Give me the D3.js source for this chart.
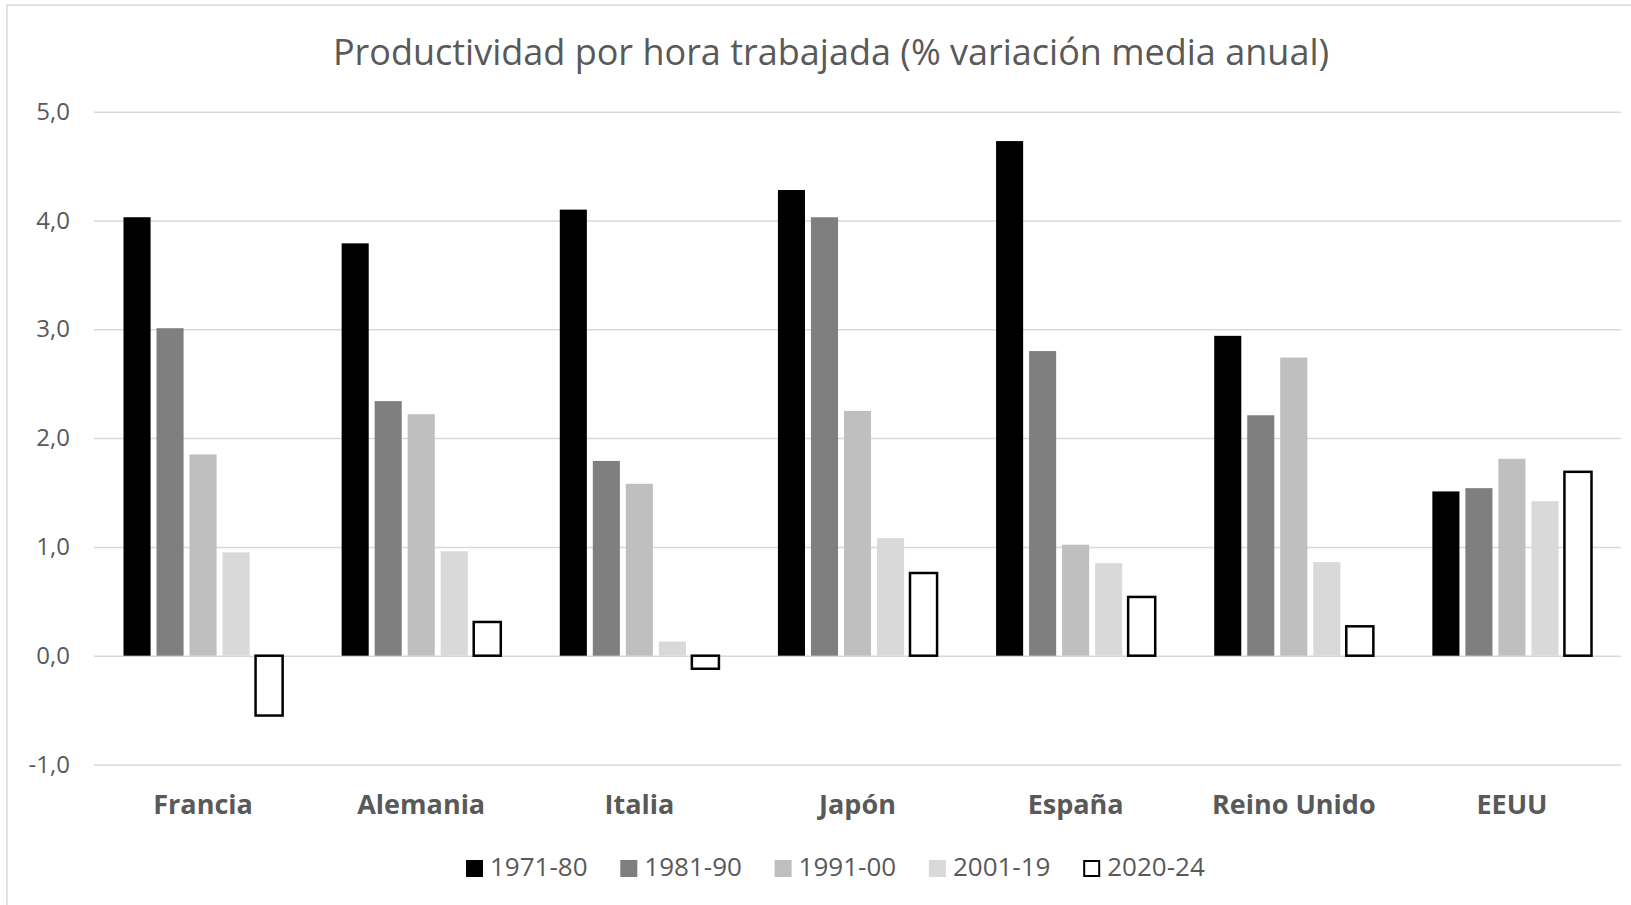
<!DOCTYPE html>
<html>
<head>
<meta charset="utf-8">
<script src="https://cdn.jsdelivr.net/npm/d3@7"></script>
<style>
  body { margin: 0; background: #fff; }
  text { font-family: "Open Sans", sans-serif; fill: #595959; }
</style>
</head>
<body>
<div id="container"></div>
<script>
/* CONSTANTS AND GLOBALS */
const width = 1631,
  height = 905,
  margin = { top: 111.7, bottom: 140.5, left: 94, right: 10 };

/* DATA */
const countries = ["Francia", "Alemania", "Italia", "Japón", "España", "Reino Unido", "EEUU"];
const periods = ["1971-80", "1981-90", "1991-00", "2001-19", "2020-24"];
const v1971_80 = [4.03, 3.79, 4.10, 4.28, 4.73, 2.94, 1.51];
const v1981_90 = [3.01, 2.34, 1.79, 4.03, 2.80, 2.21, 1.54];
const v1991_00 = [1.85, 2.22, 1.58, 2.25, 1.02, 2.74, 1.81];
const v2001_19 = [0.95, 0.96, 0.13, 1.08, 0.85, 0.86, 1.42];
const v2020_24 = [-0.55, 0.31, -0.12, 0.76, 0.54, 0.27, 1.69];
const yTicks = [-1, 0, 1, 2, 3, 4, 5];
const title = "Productividad por hora trabajada (% variación media anual)";

const seriesValues = [v1971_80, v1981_90, v1991_00, v2001_19, v2020_24];
const data = countries.map((c, i) => ({
  country: c,
  values: periods.map((p, j) => ({ period: p, value: seriesValues[j][i] }))
}));

const fills = ["#000000", "#7f7f7f", "#bfbfbf", "#d9d9d9", "#ffffff"];
const strokes = ["none", "none", "none", "none", "#000000"];

/* SCALES */
const x0 = d3.scaleBand()
  .domain(countries)
  .range([margin.left, 1621]);

const x1 = d3.scaleBand()
  .domain(periods)
  .range([29.5, x0.bandwidth() - 29.5])
  .paddingInner(0.18);

const yScale = d3.scaleLinear()
  .domain([-1, 5])
  .range([764.5, margin.top]);

const fillScale = d3.scaleOrdinal().domain(periods).range(fills);
const strokeScale = d3.scaleOrdinal().domain(periods).range(strokes);

// spanish number format, plain hyphen for the minus sign
const es = d3.formatLocale({ decimal: ",", thousands: ".", grouping: [3], currency: ["", "€"], minus: "-" });

/* HTML ELEMENTS */
const svg = d3.select("#container")
  .append("svg")
  .attr("width", width)
  .attr("height", height);

// chart frame
svg.append("rect")
  .attr("x", 7)
  .attr("y", 5)
  .attr("width", width + 20)
  .attr("height", height + 20)
  .attr("fill", "none")
  .attr("stroke", "#d9d9d9")
  .attr("stroke-width", 1.5);

// title
svg.append("text")
  .attr("x", 831)
  .attr("y", 65)
  .attr("text-anchor", "middle")
  .style("font-size", "36px")
  .text(title);

// y axis + gridlines
const yAxis = d3.axisLeft(yScale)
  .tickValues(yTicks)
  .tickFormat(es.format(".1f"))
  .tickSize(-(1621 - margin.left))
  .tickPadding(24);

const yG = svg.append("g")
  .attr("transform", `translate(${margin.left},0)`)
  .call(yAxis);
yG.select(".domain").remove();
yG.selectAll(".tick line")
  .attr("stroke", "#d9d9d9")
  .attr("stroke-width", 1.5);
yG.selectAll(".tick text")
  .style("font-size", "24px")
  .style("font-family", "'Open Sans', sans-serif")
  .attr("fill", "#595959");

// bars
const groups = svg.selectAll("g.country")
  .data(data)
  .join("g")
  .attr("class", "country")
  .attr("transform", d => `translate(${x0(d.country)},0)`);

groups.selectAll("rect")
  .data(d => d.values)
  .join("rect")
  .attr("x", d => x1(d.period))
  .attr("width", x1.bandwidth())
  .attr("y", d => yScale(Math.max(0, d.value)))
  .attr("height", d => Math.abs(yScale(d.value) - yScale(0)))
  .attr("fill", d => fillScale(d.period))
  .attr("stroke", d => strokeScale(d.period))
  .attr("stroke-width", 2.5);

// x axis labels
const xAxis = d3.axisBottom(x0)
  .tickSize(0)
  .tickPadding(30);

const xG = svg.append("g")
  .attr("transform", `translate(0,764.5)`)
  .call(xAxis);
xG.select(".domain").remove();
xG.selectAll(".tick text")
  .style("font-size", "27px")
  .style("font-weight", "bold")
  .style("font-family", "'Open Sans', sans-serif")
  .attr("fill", "#595959");

/* LEGEND */
const legend = svg.selectAll("g.legend")
  .data(periods)
  .join("g")
  .attr("class", "legend")
  .attr("transform", (d, i) => `translate(${466 + i * 154.3},860)`);

legend.append("rect")
  .attr("x", d => d === "2020-24" ? 1 : 0)
  .attr("y", d => d === "2020-24" ? 1 : 0)
  .attr("width", d => d === "2020-24" ? 15 : 17)
  .attr("height", d => d === "2020-24" ? 15 : 17)
  .attr("fill", d => fillScale(d))
  .attr("stroke", d => strokeScale(d))
  .attr("stroke-width", 2);

legend.append("text")
  .attr("x", 24)
  .attr("y", 16)
  .style("font-size", "26px")
  .text(d => d);
</script>
</body>
</html>
